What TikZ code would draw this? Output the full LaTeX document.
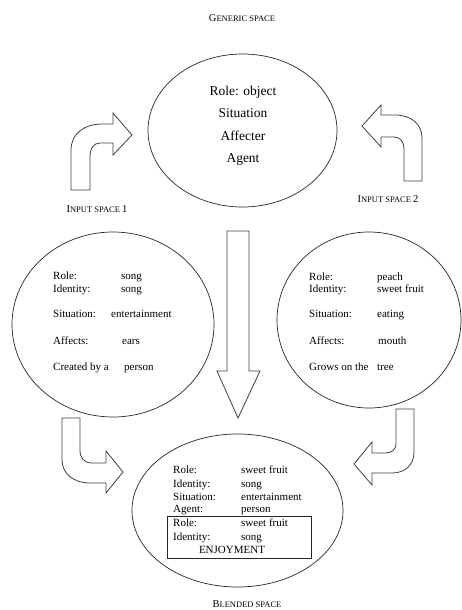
\documentclass[tikz,border=0pt]{standalone}
\usepackage{fontspec}
\setmainfont{Liberation Serif}
\usetikzlibrary{positioning, shapes.geometric}

\newcommand{\smcap}[2]{{\fontsize{10.5}{12}\selectfont #1}{\fontsize{8.5}{10}\selectfont #2}}

\begin{document}
\begin{tikzpicture}[
x=1pt, y=-1pt,
every node/.style={inner sep=0pt, font=\fontsize{11}{13}\selectfont},
space/.style={draw=black!85, line width=0.7pt, ellipse},
blockarrow/.style={draw=black!75, line width=0.8pt, fill=white},
spacelabel/.style={anchor=base},
entry/.style={anchor=base west},
bigentry/.style={anchor=base, font=\fontsize{13.5}{16}\selectfont}
]
\useasboundingbox (0,0) rectangle (462,610);
% Generic space
\node[space, minimum width=189, minimum height=153] (gen) at (242.5,130.5) {};
\node[spacelabel] (genlbl) at (242,21.5) {\smcap{G}{ENERIC SPACE}};
\foreach \y/\t [count=\i] in {95.5/Role: object, 117.5/Situation, 140.5/Affecter, 162.5/Agent}
  \node[bigentry] (g\i) at (243,\y) {\t};
% Input space 1
\node[space, minimum width=202, minimum height=185] (in1) at (113,324.5) {};
\node[spacelabel] (in1lbl) at (97,212.5) {\smcap{I}{NPUT SPACE }{\fontsize{10.5}{12}\selectfont 1}};
\foreach \y/\a/\v/\b [count=\i] in {279.5/Role:/121/song, 292.5/Identity:/121/song, 317.5/Situation:/111/entertainment, 344.5/Affects:/122/ears, 370.5/Created by a/124/person}
  {\node[entry] (la\i) at (53,\y) {\a};
   \node[entry] (lb\i) at (\v,\y) {\b};}
% Input space 2
\node[space, minimum width=184, minimum height=176] (in2) at (369,320) {};
\node[spacelabel] (in2lbl) at (388,202.5) {\smcap{I}{NPUT SPACE }{\fontsize{10.5}{12}\selectfont 2}};
\foreach \y/\a/\v/\b [count=\i] in {280/Role:/377/peach, 292.5/Identity:/377/sweet fruit, 317.5/Situation:/377/eating, 344.5/Affects:/378/mouth, 370.5/Grows on the/377/tree}
  {\node[entry] (ra\i) at (309,\y) {\a};
   \node[entry] (rb\i) at (\v,\y) {\b};}
% Blended space
\node[space, minimum width=211, minimum height=153] (blend) at (237.5,510.5) {};
\node[spacelabel] (blendlbl) at (247,607.5) {\smcap{B}{LENDED SPACE}};
\node[draw=black!85, line width=0.8pt, minimum width=144, minimum height=42] (box) at (239,537) {};
\foreach \y/\a/\b [count=\i] in {473.5/Role:/sweet fruit, 487.5/Identity:/song, 500.5/Situation:/entertainment, 512.5/Agent:/person, 526.5/Role:/sweet fruit, 540.5/Identity:/song}
  {\node[entry] (ba\i) at (173,\y) {\a};
   \node[entry] (bb\i) at (241,\y) {\b};}
\node[anchor=base] (enjoy) at (232,553.5) {ENJOYMENT};
% Block arrows
\draw[blockarrow] (71,190) -- (71,150) .. controls (71,134) and (84,124) .. (102,124) -- (113,124)
  -- (113,113) -- (132,135) -- (113,155) -- (113,143) -- (100,143)
  .. controls (94,143) and (90,148) .. (90,157) -- (90,190) -- cycle;
\draw[blockarrow] (404,181) -- (404,150) .. controls (404,141) and (400,137) .. (394,137) -- (381,137)
  -- (381,147) -- (362,126) -- (381,105) -- (381,115) -- (395,115)
  .. controls (411,115) and (422,124) .. (422,138) -- (422,181) -- cycle;
\draw[blockarrow] (227,231) -- (249,231) -- (249,371) -- (260,371) -- (238,418) -- (217,371) -- (227,371) -- cycle;
\draw[blockarrow] (62,418) -- (80,418) -- (80,450) .. controls (80,458) and (84,463) .. (92,463) -- (106,463)
  -- (106,451) -- (123,472) -- (106,493) -- (106,483) -- (90,483)
  .. controls (73,483) and (62,473) .. (62,460) -- cycle;
\draw[blockarrow] (396,409) -- (414,409) -- (414,452) .. controls (414,465) and (405,473) .. (392,473) -- (372,473)
  -- (372,485) -- (354,464) -- (372,442) -- (372,453) -- (384,453)
  .. controls (392,453) and (396,450) .. (396,443) -- cycle;
\end{tikzpicture}
\end{document}
